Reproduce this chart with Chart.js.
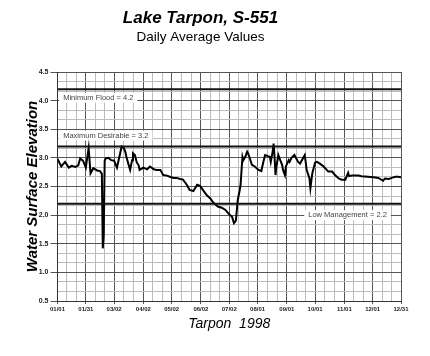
<!DOCTYPE html>
<html>
<head>
<meta charset="utf-8">
<script src="https://cdn.jsdelivr.net/npm/chart.js@4.4.0/dist/chart.umd.min.js"></script>
<style>
html,body{margin:0;padding:0;background:#fff;}
</style>
</head>
<body>
<canvas id="myChart" width="430" height="356"></canvas>
<script>
// day of year (0 = Jan 1) and daily average stage
var days=[0,4,8,12,15,19,22,24,27,30,33,35,38,42,45,47,48,49,50,51,54,57,60,63,68,70,72,73,75,77,79,80,82,84,86,87,91,95,98,102,105,109,110,112,116,119,123,126,130,133,137,140,144,148,151,155,158,162,165,170,174,178,181,185,187,189,191,193,194,196,197,199,201,202,204,206,209,213,216,218,220,223,225,226,228,229,230,231,232,234,236,238,239,241,242,245,246,248,251,252,255,257,259,262,263,264,267,268,270,273,275,278,282,287,291,294,298,301,305,308,309,312,319,322,329,335,340,345,347,351,354,358,361,364];
var levels=[2.98,2.85,2.93,2.83,2.86,2.84,2.87,2.99,2.95,2.83,3.17,2.73,2.82,2.78,2.77,2.72,1.42,1.65,2.95,2.99,3.0,2.96,2.95,2.83,3.2,3.18,3.1,3.02,2.9,2.79,2.96,3.08,3.05,2.92,2.87,2.79,2.83,2.8,2.85,2.8,2.79,2.79,2.76,2.7,2.69,2.67,2.65,2.65,2.63,2.62,2.53,2.44,2.42,2.53,2.51,2.42,2.35,2.29,2.22,2.15,2.13,2.09,2.03,1.97,1.86,1.9,2.26,2.43,2.53,3.02,2.96,3.02,3.11,3.08,2.98,2.88,2.85,2.79,2.77,2.92,3.05,3.03,3.02,2.93,3.11,3.25,3.02,2.7,2.85,3.05,2.96,2.88,2.79,2.7,2.85,2.96,2.93,3.0,3.05,3.02,2.93,2.9,2.96,3.05,2.93,2.79,2.64,2.47,2.73,2.92,2.93,2.9,2.85,2.76,2.76,2.7,2.64,2.62,2.62,2.74,2.68,2.69,2.69,2.68,2.67,2.66,2.65,2.6,2.64,2.63,2.65,2.67,2.67,2.66];

var monthDays=[0,30,60,91,121,152,182,212,243,273,304,334,364];
var monthLabels=['01/01','01/31','03/02','04/02','05/02','06/02','07/02','08/01','09/01','10/01','11/01','12/01','12/31'];

var refValues=[4.2,3.2,2.2];
var refLabels=['Minimum Flood = 4.2','Maximum Desirable = 3.2','Low Management = 2.2'];

Chart.defaults.font.family='Arial, "Liberation Sans", sans-serif';

var points=days.map(function(d,i){ return {x:d,y:levels[i]}; });

var datasets=refValues.map(function(v){
  return {
    data:[{x:0,y:v},{x:364,y:v}],
    borderColor:'#111',
    borderWidth:2,
    pointRadius:0,
    fill:false
  };
});
datasets.push({
  data:points,
  borderColor:'#000',
  borderWidth:2,
  pointRadius:0,
  tension:0,
  fill:false
});

// where the line labels sit (day, value, alignment)
var labelSpots=[
  {day:6,y:4.05,align:'left'},
  {day:6,y:3.39,align:'left'},
  {day:349,y:2.0,align:'right'}
];

var refLabelPlugin={
  id:'refLabels',
  beforeDatasetsDraw:function(chart){
    var ctx=chart.ctx, xs=chart.scales.x, ys=chart.scales.y;
    ctx.save();
    ctx.font='7.5px Arial, "Liberation Sans", sans-serif';
    ctx.textBaseline='middle';
    labelSpots.forEach(function(s,i){
      var txt=refLabels[i];
      var w=ctx.measureText(txt).width;
      var px=xs.getPixelForValue(s.day);
      var py=ys.getPixelForValue(s.y);
      var left= s.align=='left' ? px : px-w;
      ctx.fillStyle='#fff';
      ctx.fillRect(left-4,py-5,w+8,10);
      ctx.fillStyle='#444';
      ctx.textAlign='left';
      ctx.fillText(txt,left,py);
    });
    ctx.restore();
  }
};

function xTicks(){
  var t=[];
  for(var i=0;i<monthDays.length;i++){
    t.push({value:monthDays[i],major:true});
    if(i<monthDays.length-1){
      var step=(monthDays[i+1]-monthDays[i])/3;
      t.push({value:monthDays[i]+step,major:false});
      t.push({value:monthDays[i]+2*step,major:false});
    }
  }
  return t;
}

function yTicks(){
  var t=[];
  for(var i=0;i<=24;i++){
    t.push({value:0.5+i/6,major:(i%3===0)});
  }
  return t;
}

var ctx=document.getElementById('myChart').getContext('2d');
new Chart(ctx,{
  type:'line',
  data:{datasets:datasets},
  plugins:[refLabelPlugin],
  options:{
    responsive:false,
    animation:false,
    devicePixelRatio:1,
    layout:{padding:{left:0,right:29,top:0,bottom:15}},
    plugins:{
      legend:{display:false},
      tooltip:{enabled:false},
      title:{
        display:true,
        text:'Lake Tarpon, S-551',
        color:'#000',
        font:{size:17,weight:'bold',style:'italic'},
        padding:{top:7.8,bottom:0.7}
      },
      subtitle:{
        display:true,
        text:'Daily Average Values',
        color:'#000',
        font:{size:13.5},
        padding:{top:0,bottom:26.9}
      }
    },
    scales:{
      x:{
        type:'linear',
        min:0,
        max:364,
        afterBuildTicks:function(s){ s.ticks=xTicks(); },
        afterFit:function(s){ s.height=40; },
        ticks:{
          autoSkip:false,
          maxRotation:0,
          padding:2,
          color:'#222',
          font:{size:6,weight:'bold'},
          callback:function(v,i,t){
            var k=monthDays.indexOf(v);
            return k>=0 ? monthLabels[k] : '';
          }
        },
        grid:{
          color:function(c){ return c.tick && c.tick.major ? '#555' : '#bcbcbc'; },
          tickColor:function(c){ return c.tick && c.tick.major ? '#555' : 'rgba(0,0,0,0)'; },
          tickLength:3
        },
        border:{color:'#333',width:1},
        title:{
          display:true,
          text:'Tarpon  1998',
          color:'#000',
          font:{size:14,style:'italic'},
          padding:{top:0,bottom:8.6}
        }
      },
      y:{
        type:'linear',
        min:0.5,
        max:4.5,
        afterBuildTicks:function(s){ s.ticks=yTicks(); },
        afterFit:function(s){ s.width=57.5; },
        ticks:{
          autoSkip:false,
          padding:2,
          color:'#222',
          font:{size:7,weight:'bold'},
          callback:function(v,i){ return i%3===0 ? v.toFixed(1) : ''; }
        },
        grid:{
          color:function(c){ return c.tick && c.tick.major ? '#555' : '#bcbcbc'; },
          tickColor:function(c){ return c.tick && c.tick.major ? '#555' : 'rgba(0,0,0,0)'; },
          tickLength:7
        },
        border:{color:'#333',width:1},
        title:{
          display:true,
          text:'Water Surface Elevation',
          color:'#000',
          font:{size:15,weight:'bold',style:'italic'},
          padding:{top:24,bottom:0}
        }
      }
    }
  }
});
</script>
</body>
</html>
